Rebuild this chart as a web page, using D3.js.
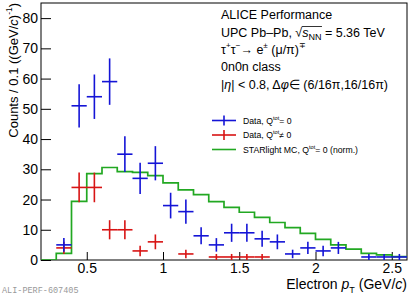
<!DOCTYPE html>
<html lang="en">
<head>
<meta charset="UTF-8">
<title>Electron pT</title>
<script src="https://d3js.org/d3.v7.min.js"></script>
<style>
  body { margin: 0; background: #fff; }
  svg text { font-family: "Liberation Sans", Arial, Helvetica, sans-serif; fill: #000; }
</style>
</head>
<body>
<script>
// bins of 0.1 GeV/c, lower edges
var binEdges = [0.2, 0.3, 0.4, 0.5, 0.6, 0.7, 0.8, 0.9, 1.0, 1.1, 1.2, 1.3,
                1.4, 1.5, 1.6, 1.7, 1.8, 1.9, 2.0, 2.1, 2.2, 2.3, 2.4, 2.5, 2.6];
var dataQ0  = [0, 5, 51, 54, 59, 35, 27, 32, 18, 16, 8, 5, 9, 9, 7, 6, 2, 4, 3, 4, 0, 1, 1, 1];
var dataQn0 = [0, 4, 24, 24, 10, 10, 3, 6, 0, 2, 0, 1, 1, 1, 1, 0, 0, 0, 0, 0, 0, 0, 0, 0];
var mcQ0    = [0, 2.2, 19.4, 28.6, 30.6, 29.2, 29.0, 27.9, 25.5, 23.2, 21.6, 19.3,
               17.4, 15.8, 14.1, 12.4, 10.7, 8.8, 6.8, 5.0, 3.6, 2.2, 1.7, 1.1];
var xTicks = [0.5, 1, 1.5, 2, 2.5];
var yTicks = [0, 10, 20, 30, 40, 50, 60, 70, 80];

var W = 412, H = 296;
var blue = '#1414d6', red = '#d81414', green = '#22a822';

var svg = d3.select('body').append('svg')
    .attr('width', W)
    .attr('height', H);

var x = d3.scaleLinear().domain([0.2, 2.6]).range([41, 407]);
var y = d3.scaleLinear().domain([0, 85]).range([260, 3]);

svg.append('clipPath').attr('id', 'frame')
  .append('rect')
    .attr('x', x.range()[0]).attr('y', y.range()[1])
    .attr('width', x.range()[1] - x.range()[0])
    .attr('height', y.range()[0] - y.range()[1]);

// axes (ticks point inward, ROOT style)
var gx = svg.append('g').attr('transform', 'translate(0,' + y(0) + ')');
gx.call(d3.axisBottom(x).tickValues(x.ticks(24)).tickSizeInner(-4).tickSizeOuter(0).tickFormat(''));
gx.call(d3.axisBottom(x).tickValues(xTicks).tickSizeInner(-8).tickSizeOuter(0).tickPadding(3).tickFormat(d3.format('')));
gx.selectAll('.domain').remove();
gx.selectAll('text').style('font-size', '14px');

var gy = svg.append('g').attr('transform', 'translate(' + x(0.2) + ',0)');
gy.call(d3.axisLeft(y).tickValues(d3.range(0, 85, 2)).tickSizeInner(-5).tickSizeOuter(0).tickFormat(''));
gy.call(d3.axisLeft(y).tickValues(yTicks).tickSizeInner(-10).tickSizeOuter(0).tickPadding(3).tickFormat(d3.format('d')));
gy.selectAll('.domain').remove();
gy.selectAll('text').style('font-size', '14px');

svg.append('rect')
    .attr('x', x(0.2)).attr('y', y(85))
    .attr('width', x(2.6) - x(0.2)).attr('height', y(0) - y(85))
    .attr('fill', 'none').attr('stroke', '#000').attr('stroke-width', 1);

// MC histogram
var steps = mcQ0.map(function(v, i) { return [binEdges[i], v]; });
steps.push([binEdges[binEdges.length - 1], mcQ0[mcQ0.length - 1]]);
svg.append('path')
    .attr('clip-path', 'url(#frame)')
    .attr('d', d3.line().x(function(d) { return x(d[0]); }).y(function(d) { return y(d[1]); }).curve(d3.curveStepAfter)(steps))
    .attr('fill', 'none').attr('stroke', green).attr('stroke-width', 1.7);

// data points with stat. errors
function drawData(vals, col) {
  var pts = vals.map(function(v, i) { return { lo: binEdges[i], hi: binEdges[i + 1], v: v }; })
                .filter(function(d) { return d.v > 0; });
  var g = svg.append('g').attr('stroke', col).attr('stroke-width', 1.6).attr('clip-path', 'url(#frame)');
  g.selectAll('line.h').data(pts).enter().append('line').attr('class', 'h')
    .attr('x1', function(d) { return x(d.lo); })
    .attr('x2', function(d) { return x(d.hi); })
    .attr('y1', function(d) { return y(d.v); })
    .attr('y2', function(d) { return y(d.v); });
  g.selectAll('line.v').data(pts).enter().append('line').attr('class', 'v')
    .attr('x1', function(d) { return x((d.lo + d.hi) / 2); })
    .attr('x2', function(d) { return x((d.lo + d.hi) / 2); })
    .attr('y1', function(d) { return y(d.v + Math.sqrt(d.v)); })
    .attr('y2', function(d) { return y(d.v - Math.sqrt(d.v)); });
}
drawData(dataQn0, red);
drawData(dataQ0, blue);

// rich text helper: parts = [text, {t, sup|sub|it}]
function rich(parent, px, py, size, parts) {
  var t = parent.append('text').attr('x', px).attr('y', py).style('font-size', size + 'px');
  parts.forEach(function(p) {
    if (typeof p === 'string') { t.append('tspan').text(p); return; }
    var s = t.append('tspan').text(p.t);
    if (p.it) s.style('font-style', 'italic');
    if (p.sup) s.style('font-size', (size * 0.65) + 'px').attr('baseline-shift', size * 0.45);
    if (p.sub) s.style('font-size', (size * (p.k || 0.65)) + 'px').attr('baseline-shift', -size * 0.25);
  });
  return t;
}

// axis titles
rich(svg, 0, 0, 13, ['Counts / 0.1 ((GeV/', { t: 'c', it: true }, ')', { t: '-1', sup: true }, ')'])
    .attr('transform', 'translate(18,3) rotate(-90)')
    .attr('text-anchor', 'end');
rich(svg, 407, 289, 14, ['Electron ', { t: 'p', it: true }, { t: 'T', sub: true }, ' (GeV/', { t: 'c', it: true }, ')'])
    .attr('text-anchor', 'end');

// header block
var tx = 221, ts = 12.5;
var rows = [19, 36.5, 53.5, 71, 88.5];
rich(svg, tx, rows[0], ts, ['ALICE Performance']);
var l2 = rich(svg, tx, rows[1], ts, ['UPC Pb\u2013Pb, \u221A', { t: 's', it: true }, { t: 'NN', sub: true, k: 0.72 }, ' = 5.36 TeV']);
rich(svg, tx, rows[2], ts, ['\u03C4', { t: '+', sup: true }, '\u03C4', { t: '\u2212', sup: true }, '\u2192 e', { t: '\u00B1', sup: true }, ' (\u03BC/\u03C0)', { t: '\u2213', sup: true }]);
rich(svg, tx, rows[3], ts, ['0n0n class']);
rich(svg, tx, rows[4], ts, ['|', { t: '\u03B7', it: true }, '| < 0.8, \u0394', { t: '\u03C6', it: true }, '\u2208 (6/16\u03C0,16/16\u03C0)']);

// overline of the square root
var l2n = l2.node(), full = l2.text();
var i0 = full.indexOf('\u221A'), i1 = full.indexOf('NN') + 1;
var p0 = l2n.getEndPositionOfChar(i0), p1 = l2n.getEndPositionOfChar(i1);
svg.append('line')
    .attr('x1', p0.x - 0.5).attr('x2', p1.x + 0.5)
    .attr('y1', rows[1] - ts * 0.8).attr('y2', rows[1] - ts * 0.8)
    .attr('stroke', '#000').attr('stroke-width', 0.8);

// legend
var legend = [
  { y: 120.5, col: blue, kind: 'data', parts: ['Data, Q', { t: 'tot', sup: true }, '= 0'] },
  { y: 135, col: red, kind: 'data', parts: ['Data, Q', { t: 'tot', sup: true }, '\u2260 0'] },
  { y: 149.5, col: green, kind: 'mc', parts: ['STARlight MC, Q', { t: 'tot', sup: true }, '= 0 (norm.)'] }
];
legend.forEach(function(e) {
  var g = svg.append('g').attr('stroke', e.col).attr('stroke-width', 1.6);
  g.append('line').attr('x1', 212).attr('x2', 236).attr('y1', e.y).attr('y2', e.y);
  if (e.kind === 'data') g.append('line').attr('x1', 224).attr('x2', 224).attr('y1', e.y - 5).attr('y2', e.y + 5);
  rich(svg, 243, e.y + 3.2, 8.7, e.parts);
});

svg.append('text')
    .attr('x', 2).attr('y', 293)
    .style('font-family', '"Liberation Mono", "DejaVu Sans Mono", monospace')
    .style('font-size', '8.5px')
    .style('fill', '#999')
    .text('ALI-PERF-607405');
</script>
</body>
</html>
